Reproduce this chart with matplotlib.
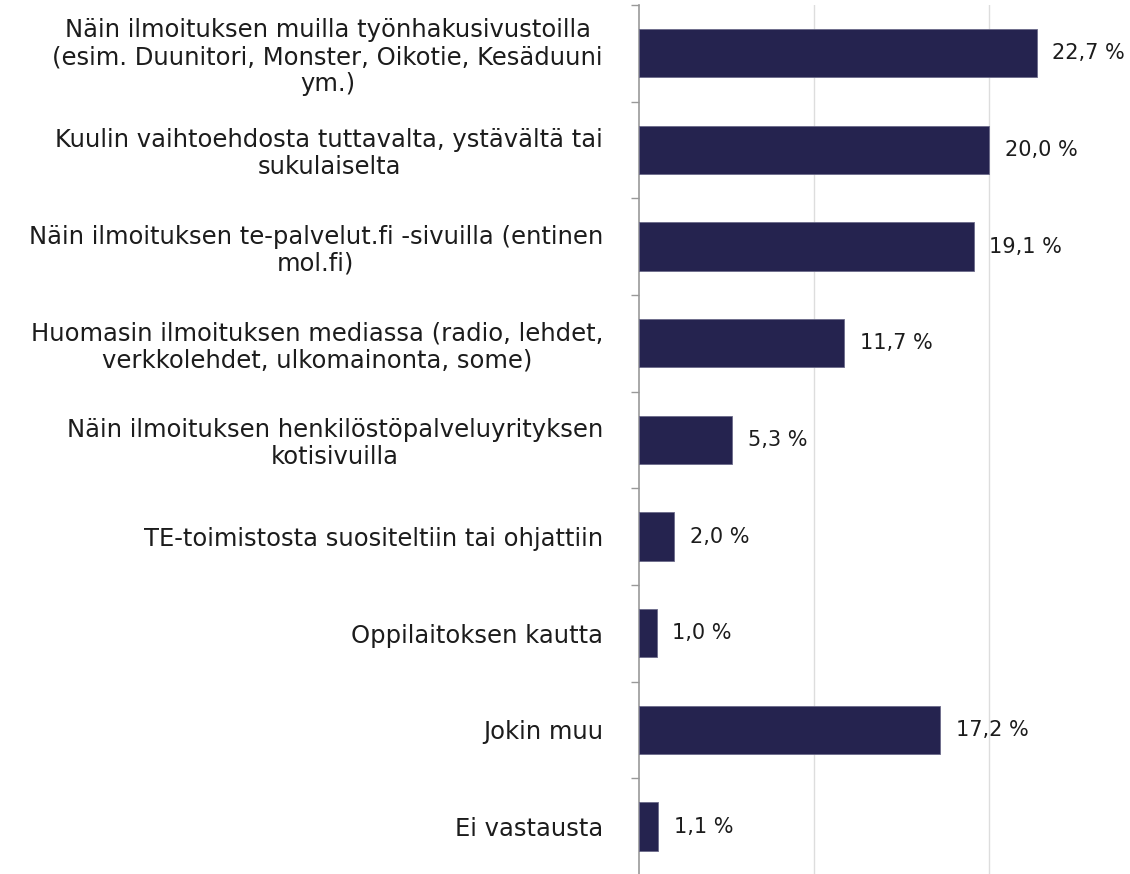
import matplotlib.pyplot as plt

# Data
labels = [
    "Näin ilmoituksen muilla työnhakusivustoilla\n(esim. Duunitori, Monster, Oikotie, Kesäduuni\nym.)",
    "Kuulin vaihtoehdosta tuttavalta, ystävältä tai\nsukulaiselta",
    "Näin ilmoituksen te-palvelut.fi -sivuilla (entinen\nmol.fi)",
    "Huomasin ilmoituksen mediassa (radio, lehdet,\nverkkolehdet, ulkomainonta, some)",
    "Näin ilmoituksen henkilöstöpalveluyrityksen\nkotisivuilla",
    "TE-toimistosta suositeltiin tai ohjattiin",
    "Oppilaitoksen kautta",
    "Jokin muu",
    "Ei vastausta",
]
values = [22.7, 20.0, 19.1, 11.7, 5.3, 2.0, 1.0, 17.2, 1.1]

BAR_COLOR = "#25234f"
TEXT_COLOR = "#1c1c1c"

fig = plt.figure(figsize=(11.3, 8.74), dpi=100)
ax = fig.add_axes([0.5655, -0.001, 0.434, 0.9953])

y = list(range(len(labels)))
ax.barh(y, values, height=0.5, color=BAR_COLOR, edgecolor="#6b6a8a", linewidth=0.6, zorder=3)

for yi, v in zip(y, values):
    ax.text(v + 0.9, yi, f"{v:.1f} %".replace(".", ","), va="center", ha="left",
            fontsize=15, color=TEXT_COLOR)

ax.set_xlim(0, 28)
ax.set_ylim(len(labels) - 0.5, -0.5)
ax.set_xticks([10, 20])
ax.grid(axis="x", color="#dddddd", linewidth=1, zorder=0)
ax.tick_params(axis="x", length=0, labelbottom=False)

# category boundaries as minor ticks, labels on major (no tick)
ax.set_yticks(y)
ax.set_yticklabels(labels, fontsize=17.5, color=TEXT_COLOR, multialignment="center",
                   linespacing=1.15)
ax.tick_params(axis="y", length=0, pad=26)
ax.set_yticks([i - 0.5 for i in range(len(labels) + 1)], minor=True)
ax.tick_params(axis="y", which="minor", length=6, color="#999999", width=1)

for s in ["top", "right", "bottom"]:
    ax.spines[s].set_visible(False)
ax.spines["left"].set_color("#999999")
ax.spines["left"].set_linewidth(1.2)

fig.savefig("out.png", dpi=100)
